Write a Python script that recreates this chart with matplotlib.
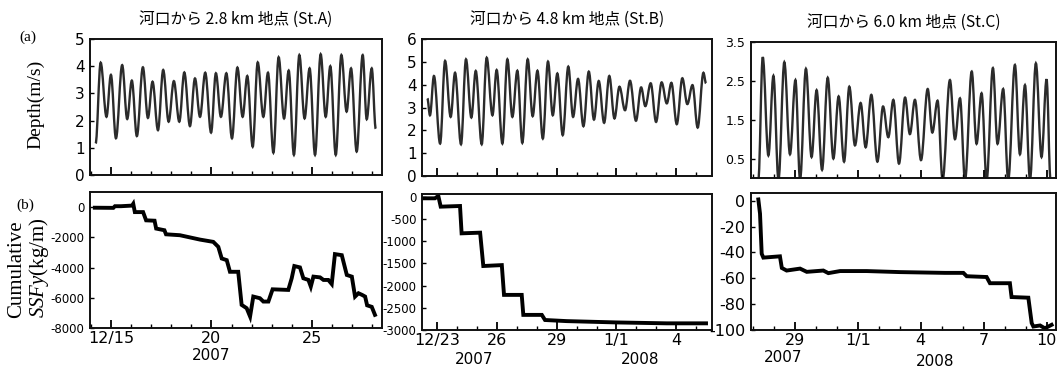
import matplotlib
matplotlib.use("Agg")
import matplotlib.pyplot as plt
from matplotlib.ticker import FixedLocator, MultipleLocator, NullFormatter
from matplotlib.transforms import blended_transform_factory
from matplotlib.path import Path
from matplotlib.patches import PathPatch

plt.rcParams['axes.unicode_minus'] = False
plt.rcParams['mathtext.fontset'] = 'custom'
plt.rcParams['mathtext.rm'] = 'Liberation Serif'
plt.rcParams['mathtext.it'] = 'Liberation Serif:italic'

# ---------------- data (time = day counted from 2007-12-00; Jan 1 2008 = 32) -------------
titles = ["河口から 2.8 km 地点 (St.A)", "河口から 4.8 km 地点 (St.B)", "河口から 6.0 km 地点 (St.C)"]

# depth: successive tidal extrema (trough / peak)
a_depth_t = [14.24, 14.49, 14.78, 15.00, 15.25, 15.56, 15.81, 16.04, 16.29, 16.59, 16.84, 17.07,
             17.34, 17.60, 17.87, 18.13, 18.40, 18.65, 18.93, 19.18, 19.43, 19.69, 19.98, 20.22,
             20.47, 20.74, 21.02, 21.29, 21.55, 21.78, 22.05, 22.30, 22.58, 22.81, 23.08, 23.34,
             23.61, 23.84, 24.10, 24.37, 24.63, 24.88, 25.15, 25.43, 25.68, 25.91, 26.18, 26.46,
             26.72, 26.94, 27.22, 27.52, 27.72, 27.97, 28.17]
a_depth_v = [1.16, 4.13, 2.14, 3.68, 1.35, 4.04, 2.06, 3.47, 1.43, 3.96, 2.10, 3.43,
             1.65, 3.86, 1.96, 3.45, 1.96, 3.77, 1.80, 3.55, 2.14, 3.76, 1.56, 3.74,
             2.14, 3.74, 1.35, 3.95, 2.14, 3.64, 1.04, 4.14, 2.14, 3.76, 0.82, 4.33,
             2.08, 3.84, 0.74, 4.41, 2.08, 3.92, 0.74, 4.44, 2.14, 4.00, 0.74, 4.41,
             2.33, 3.92, 0.86, 4.41, 2.05, 3.92, 1.70]

b_depth_t = [22.50, 22.63, 22.83, 23.14, 23.39, 23.67, 23.89, 24.19, 24.44, 24.71, 24.93, 25.23,
             25.48, 25.77, 25.98, 26.27, 26.52, 26.77, 27.02, 27.27, 27.54, 27.79, 28.03, 28.30,
             28.56, 28.80, 29.03, 29.30, 29.58, 29.82, 30.07, 30.34, 30.61, 30.87, 31.11, 31.38,
             31.64, 31.90, 32.15, 32.43, 32.68, 32.98, 33.24, 33.45, 33.72, 33.99, 34.27, 34.53,
             34.76, 35.03, 35.31, 35.56, 35.82, 36.08, 36.37, 36.50]
b_depth_v = [3.40, 2.66, 4.38, 1.42, 5.04, 2.59, 4.52, 1.39, 5.11, 2.56, 4.60, 1.39,
             5.18, 2.66, 4.64, 1.42, 5.11, 2.59, 4.61, 1.45, 5.11, 2.62, 4.61, 1.64,
             5.01, 2.66, 4.49, 1.79, 4.79, 2.59, 4.25, 2.18, 4.57, 2.47, 4.16, 2.33,
             4.38, 2.52, 3.91, 2.88, 4.17, 2.42, 3.88, 3.06, 4.06, 2.37, 4.10, 3.18,
             4.08, 2.27, 4.28, 3.15, 3.98, 2.12, 4.52, 4.06]

c_depth_t = [27.25, 27.46, 27.73, 27.97, 28.21, 28.49, 28.76, 29.02, 29.24, 29.52, 29.79, 30.03,
             30.29, 30.56, 30.83, 31.08, 31.34, 31.59, 31.86, 32.13, 32.37, 32.64, 32.93, 33.20,
             33.45, 33.69, 33.96, 34.25, 34.48, 34.72, 35.01, 35.33, 35.55, 35.80, 36.04, 36.39,
             36.63, 36.87, 37.11, 37.43, 37.66, 37.90, 38.14, 38.44, 38.66, 38.93, 39.17, 39.49,
             39.73, 39.97, 40.21, 40.49, 40.76, 41.00, 41.19]
c_depth_v = [-0.05, 3.11, 0.58, 2.63, -0.05, 2.98, 0.61, 2.52, -0.05, 2.81, 0.54, 2.26,
             0.21, 2.58, 0.50, 2.10, 0.42, 2.35, 0.84, 1.93, 0.79, 2.14, 0.42, 1.84,
             1.05, 2.01, 0.37, 2.07, 1.13, 2.01, 0.46, 2.29, 1.17, 1.99, -0.05, 2.52,
             1.00, 2.05, -0.05, 2.74, 0.88, 2.18, -0.05, 2.83, 0.88, 2.29, -0.05, 2.91,
             0.61, 2.39, -0.05, 2.95, 0.54, 2.54, -0.05]

a_ssf_t = [14.20, 15.12, 15.20, 15.50, 16.05, 16.11, 16.19, 16.60, 16.75, 17.17, 17.25, 17.66,
           17.74, 18.43, 19.43, 20.09, 20.34, 20.51, 20.76, 20.92, 21.33, 21.50, 21.75, 21.92,
           22.08, 22.41, 22.58, 22.83, 23.04, 23.82, 23.99, 24.12, 24.40, 24.57, 24.82, 24.94,
           25.07, 25.40, 25.57, 25.81, 25.98, 26.14, 26.48, 26.73, 26.98, 27.14, 27.31, 27.49,
           27.64, 27.74, 27.97, 28.13]
a_ssf_v = [-40, -50, 60, 60, 100, 220, -330, -330, -875, -900, -1420, -1530,
           -1800, -1860, -2150, -2300, -2630, -3400, -3510, -4280, -4280, -6470, -6690, -7240,
           -5920, -6030, -6250, -6250, -5440, -5480, -4710, -3900, -3990, -4710, -4820, -5260,
           -4600, -4650, -4820, -4820, -5090, -3110, -3180, -4490, -4600, -5920, -5700, -5810,
           -5920, -6500, -6600, -7130]

b_ssf_t = [22.33, 22.88, 23.05, 23.17, 24.14, 24.22, 25.15, 25.31, 26.24, 26.35, 27.24, 27.32,
           28.25, 28.41, 29.50, 32.02, 34.53, 36.50]
b_ssf_v = [-37, -37, 15, -225, -210, -825, -810, -1560, -1540, -2210, -2210, -2660,
           -2660, -2775, -2800, -2830, -2850, -2850]

c_ssf_t = [27.25, 27.33, 27.41, 27.49, 28.28, 28.37, 28.60, 29.24, 29.56, 30.35, 30.59, 31.15,
           32.42, 34.01, 36.15, 37.03, 37.19, 38.14, 38.30, 39.25, 39.33, 40.13, 40.29, 40.37,
           40.69, 40.92, 41.24]
c_ssf_v = [1, -10, -41, -44, -43, -52, -54, -52.5, -55, -54, -56, -54.4,
           -54.4, -55.2, -55.8, -55.8, -58.4, -59, -63.8, -63.8, -74.5, -75, -94.6, -97.3,
           -96.5, -98.7, -96]

# x ticks (major positions and labels)
a_xticks = [15, 20, 25]
a_xlabels = ["12/15", "20", "25"]
b_xticks = [23, 26, 29, 32, 35]
b_xlabels = ["12/23", "26", "29", "1/1", "4"]
c_xticks = [29, 32, 35, 38, 41]
c_xlabels = ["29", "1/1", "4", "7", "10"]

# year labels (position in days, text)
a_years = [(20.0, "2007")]
b_years = [(24.84, "2007"), (33.19, "2008")]
c_years = [(28.43, "2007"), (35.68, "2008")]

# y ticks
a_depth_yticks = [0, 1, 2, 3, 4, 5]
b_depth_yticks = [0, 1, 2, 3, 4, 5, 6]
c_depth_yticks = [0.5, 1.5, 2.5, 3.5]
a_ssf_yticks = [0, -2000, -4000, -6000, -8000]
b_ssf_yticks = [0, -500, -1000, -1500, -2000, -2500, -3000]
c_ssf_yticks = [0, -20, -40, -60, -80, -100]

# ---------------- figure ----------------
W, H = 1059, 368
fig = plt.figure(figsize=(W / 100, H / 100), dpi=100)

def rect(l, t, r, b):
    return [l / W, 1 - b / H, (r - l) / W, (b - t) / H]

narrow = ['Liberation Sans Narrow', 'DejaVu Sans']
serif = ['Liberation Serif', 'DejaVu Serif']
cjk = ['Noto Sans CJK JP', 'DejaVu Sans']

panels = [
    dict(top=rect(90, 39, 382, 175), bot=rect(90, 192, 382, 328), xlim=(13.96, 28.48),
         dt=a_depth_t, dv=a_depth_v, st=a_ssf_t, sv=a_ssf_v, xt=a_xticks, xl=a_xlabels,
         years=a_years, dyt=a_depth_yticks, dyl=(0, 5), syt=a_ssf_yticks, syl=(-8000, 1000),
         dfs=11, sfs=8.5, yfs=[356]),
    dict(top=rect(422, 39, 712, 176), bot=rect(422, 194, 712, 330), xlim=(22.23, 36.80),
         dt=b_depth_t, dv=b_depth_v, st=b_ssf_t, sv=b_ssf_v, xt=b_xticks, xl=b_xlabels,
         years=b_years, dyt=b_depth_yticks, dyl=(0, 6), syt=b_ssf_yticks, syl=(-3000, 60),
         dfs=11, sfs=8.5, yfs=[360, 360]),
    dict(top=rect(751, 42, 1056, 178), bot=rect(751, 193, 1056, 330), xlim=(26.90, 41.45),
         dt=c_depth_t, dv=c_depth_v, st=c_ssf_t, sv=c_ssf_v, xt=c_xticks, xl=c_xlabels,
         years=c_years, dyt=c_depth_yticks, dyl=(0, 3.5), syt=c_ssf_yticks, syl=(-100, 6),
         dfs=9, sfs=11.5, yfs=[358, 361]),
]

def style_axis(ax, p, labels):
    ax.set_xlim(*p['xlim'])
    ax.xaxis.set_major_locator(FixedLocator(p['xt']))
    ax.xaxis.set_minor_locator(MultipleLocator(1))
    if labels:
        ax.set_xticklabels(p['xl'])
    else:
        ax.xaxis.set_major_formatter(NullFormatter())
    ax.tick_params(axis='x', which='major', direction='in', length=6, width=1.3, pad=2)
    ax.tick_params(axis='x', which='minor', direction='in', length=3, width=1.0)
    ax.tick_params(axis='y', which='major', direction='in', length=3, width=1.0, pad=4)
    for s in ax.spines.values():
        s.set_linewidth(1.4)
        s.set_color('#111111')

def smooth_path(ts, vs):
    # draw the extrema sequence as a smooth tidal curve: cubic Bezier segments with
    # horizontal tangents at every extremum
    verts = [(ts[0], vs[0])]
    codes = [Path.MOVETO]
    for k in range(1, len(ts)):
        d = (ts[k] - ts[k - 1]) * 0.36
        verts += [(ts[k - 1] + d, vs[k - 1]), (ts[k] - d, vs[k]), (ts[k], vs[k])]
        codes += [Path.CURVE4] * 3
    return Path(verts, codes)

for i, p in enumerate(panels):
    axt = fig.add_axes(p['top'])
    axt.add_patch(PathPatch(smooth_path(p['dt'], p['dv']), fill=False,
                            edgecolor='#2b2b2b', lw=1.7))
    axt.set_ylim(*p['dyl'])
    axt.set_yticks(p['dyt'])
    style_axis(axt, p, False)
    for lab in axt.get_yticklabels():
        lab.set_fontfamily(narrow)
        lab.set_fontsize(p['dfs'])
    axt.set_title(titles[i], fontfamily=cjk, fontsize=11.3, pad=11)

    axb = fig.add_axes(p['bot'])
    axb.plot(p['st'], p['sv'], color='black', lw=2.8, solid_joinstyle='miter')
    axb.set_ylim(*p['syl'])
    axb.set_yticks(p['syt'])
    style_axis(axb, p, True)
    for lab in axb.get_yticklabels():
        lab.set_fontfamily(narrow)
        lab.set_fontsize(p['sfs'])
    for lab in axb.get_xticklabels():
        lab.set_fontfamily(narrow)
        lab.set_fontsize(11.5)
    tr = blended_transform_factory(axb.transData, fig.transFigure)
    for (x, txt), ypix in zip(p['years'], p['yfs']):
        axb.text(x, 1 - ypix / H, txt, transform=tr, ha='center', va='center',
                 fontfamily=narrow, fontsize=11)

fig.text(36 / W, 1 - 104 / H, "Depth(m/s)", rotation=90, ha='center', va='center',
         fontfamily=serif, fontsize=14)
fig.text(17 / W, 1 - 269 / H, "Cumulative", rotation=90, ha='center', va='center',
         fontfamily=serif, fontsize=15)
fig.text(39 / W, 1 - 268 / H, r"$\mathit{SSFy}$(kg/m)", rotation=90, ha='center', va='center',
         fontfamily=serif, fontsize=15)
fig.text(28 / W, 1 - 37 / H, "(a)", ha='center', va='center', fontfamily=serif, fontsize=11)
fig.text(25 / W, 1 - 205 / H, "(b)", ha='center', va='center', fontfamily=serif, fontsize=11)

fig.savefig("out.png", dpi=100)
